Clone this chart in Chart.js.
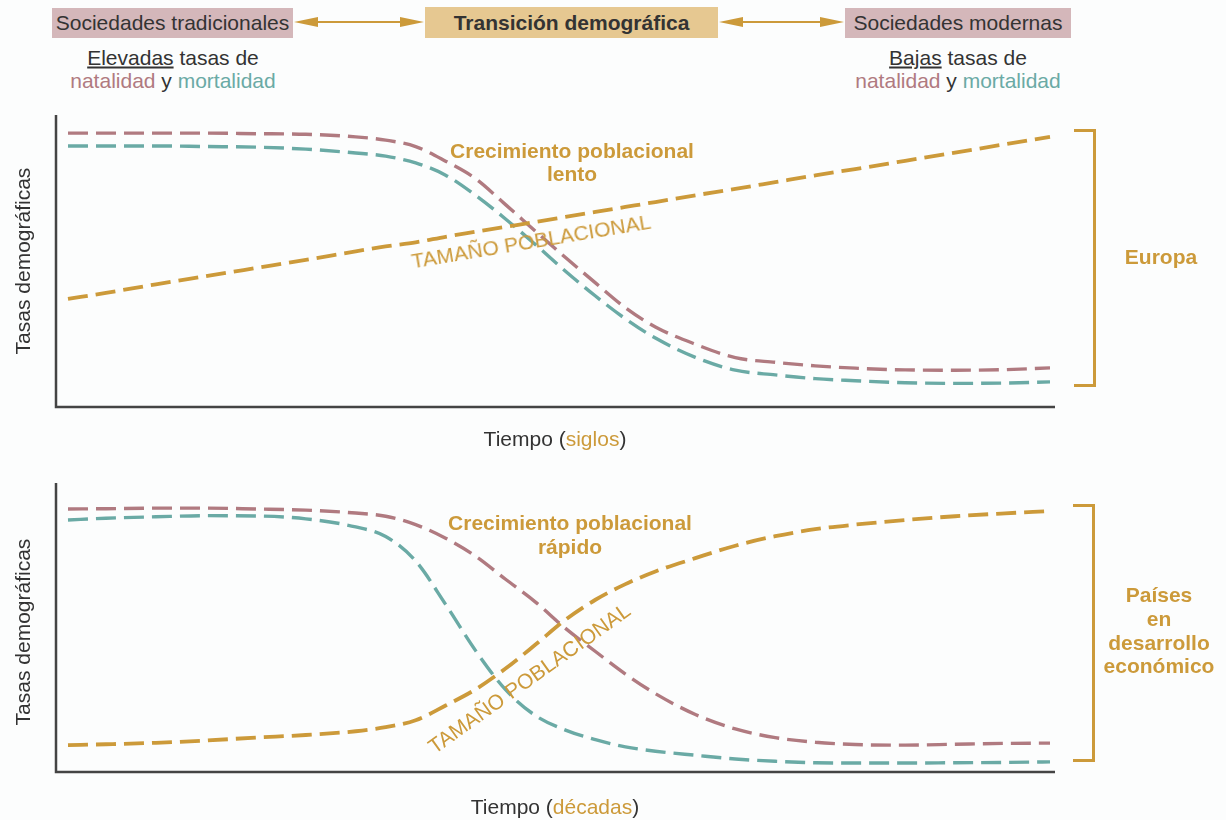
<!DOCTYPE html>
<html>
<head>
<meta charset="utf-8">
<script src="https://cdn.jsdelivr.net/npm/chart.js@4"></script>
<style>
  body { margin: 0; background: #fcfdfd; font-family: "Liberation Sans", Arial, sans-serif; color: #333; }
  #page { position: relative; width: 1226px; height: 820px; overflow: hidden; }
  canvas { position: absolute; left: 0; }
  .t { position: absolute; white-space: nowrap; transform: translate(-50%, -50%); font-size: 21px; line-height: 1; }
  .box { position: absolute; display: flex; align-items: center; justify-content: center; font-size: 21px; }
  .gold { color: #cc9a3a; }
  .pink { color: #b07a80; }
  .teal { color: #6aaaa5; }
  .b { font-weight: bold; }
  .bracket { position: absolute; border: 3px solid #cc9a3a; border-left: none; }
</style>
</head>
<body>
<div id="page">
  <div class="box" style="left:52px;top:8px;width:241px;height:30px;background:#d4b7ba;">Sociedades tradicionales</div>
  <div class="box b" style="left:425px;top:7px;width:293px;height:31px;background:#e6c891;">Transición demográfica</div>
  <div class="box" style="left:845px;top:8px;width:226px;height:30px;background:#d4b7ba;">Sociedades modernas</div>
  <svg style="position:absolute;left:0;top:0" width="1226" height="40">
    <g fill="#cc9a3a" stroke="#cc9a3a">
      <line x1="305" y1="22" x2="412" y2="22" stroke-width="2"/>
      <polygon points="294,22 318,17 318,27" stroke="none"/>
      <polygon points="424,22 400,17 400,27" stroke="none"/>
      <line x1="730" y1="22" x2="833" y2="22" stroke-width="2"/>
      <polygon points="719,22 743,17 743,27" stroke="none"/>
      <polygon points="844,22 820,17 820,27" stroke="none"/>
    </g>
  </svg>
  <div class="t" style="left:173px;top:57px;"><u>Elevadas</u> tasas de</div>
  <div class="t" style="left:173px;top:80px;"><span class="pink">natalidad</span> y <span class="teal">mortalidad</span></div>
  <div class="t" style="left:958px;top:57px;"><u>Bajas</u> tasas de</div>
  <div class="t" style="left:958px;top:80px;"><span class="pink">natalidad</span> y <span class="teal">mortalidad</span></div>

  <canvas id="europaChart" width="1226" height="360" style="top:100px"></canvas>
  <canvas id="desarrolloChart" width="1226" height="360" style="top:460px"></canvas>

  <div class="t" style="left:22px;top:261px;transform:translate(-50%,-50%) rotate(-90deg);">Tasas demográficas</div>
  <div class="t" style="left:555px;top:438px;">Tiempo (<span class="gold">siglos</span>)</div>
  <div class="t b gold" style="left:572px;top:150px;">Crecimiento poblacional</div>
  <div class="t b gold" style="left:572px;top:173px;">lento</div>
  <div class="t gold" style="left:531px;top:241px;transform:translate(-50%,-50%) rotate(-9.5deg);">TAMAÑO POBLACIONAL</div>
  <div class="bracket" style="left:1074px;top:129px;width:19px;height:252px;"></div>
  <div class="t b gold" style="left:1161px;top:256px;">Europa</div>

  <div class="t" style="left:22px;top:632px;transform:translate(-50%,-50%) rotate(-90deg);">Tasas demográficas</div>
  <div class="t" style="left:555px;top:806px;">Tiempo (<span class="gold">décadas</span>)</div>
  <div class="t b gold" style="left:570px;top:522px;">Crecimiento poblacional</div>
  <div class="t b gold" style="left:570px;top:546px;">rápido</div>
  <div class="t gold" style="left:529px;top:678px;transform:translate(-50%,-50%) rotate(-35.5deg);">TAMAÑO POBLACIONAL</div>
  <div class="bracket" style="left:1073px;top:504px;width:19px;height:252px;"></div>
  <div class="t b gold" style="left:1159px;top:594px;">Países</div>
  <div class="t b gold" style="left:1159px;top:618px;">en</div>
  <div class="t b gold" style="left:1159px;top:642px;">desarrollo</div>
  <div class="t b gold" style="left:1159px;top:665px;">económico</div>
</div>

<script>
const tiempo = [1.2, 5, 10, 15, 20, 25, 30, 33, 36, 39, 42, 45, 48, 51, 54, 57, 60, 64, 68, 72, 76, 80, 85, 90, 95, 99.5];

// Europa (siglos)
const europaNatalidad = [93.8, 93.8, 93.8, 93.8, 93.6, 93.4, 92.5, 91.4, 89.2, 84.2, 78.2, 69.3, 60.2, 51.2, 42.5, 34.0, 27.4, 21.5, 16.9, 15.3, 14.1, 13.3, 12.7, 12.6, 12.8, 13.4];
const europaMortalidad = [89.4, 89.4, 89.4, 89.2, 89.0, 88.3, 87.0, 85.9, 83.6, 79.4, 72.5, 64.4, 55.6, 46.5, 38.0, 30.2, 23.6, 17.0, 12.6, 11.0, 9.7, 9.0, 8.3, 8.1, 8.2, 8.6];
const europaPoblacion = [37.0, 39.1, 42.0, 44.8, 47.6, 50.4, 53.3, 55.0, 56.4, 58.3, 60.0, 61.7, 63.4, 65.1, 66.8, 68.5, 70.2, 72.5, 74.7, 77.0, 79.3, 81.5, 84.3, 87.1, 90.0, 92.5];

// Países en desarrollo (décadas)
const desarrolloNatalidad = [91.0, 91.1, 91.3, 91.3, 91.0, 90.6, 89.6, 88.5, 85.6, 80.9, 74.7, 66.7, 58.8, 49.7, 41.7, 33.9, 27.1, 19.9, 14.9, 11.9, 10.3, 9.5, 9.3, 9.6, 9.9, 10.0];
const desarrolloMortalidad = [87.2, 87.8, 88.3, 88.7, 88.6, 87.6, 84.8, 81.5, 73.0, 58.0, 42.0, 28.5, 19.5, 14.5, 11.2, 8.7, 7.2, 5.8, 4.5, 3.7, 3.2, 3.1, 3.1, 3.2, 3.3, 3.5];
const desarrolloPoblacion = [9.3, 9.6, 10.1, 10.9, 11.9, 12.8, 14.1, 15.5, 17.9, 23.0, 28.6, 35.8, 44.1, 52.7, 59.6, 65.0, 69.4, 74.0, 78.3, 81.6, 84.0, 85.6, 87.2, 88.5, 89.5, 90.3];

const PINK = "#b07a80";
const TEAL = "#6aaaa5";
const GOLD = "#cc9a3a";

// draws the left and bottom axis lines on the chart area
const axisLines = {
  id: "axisLines",
  afterDraw(chart) {
    const { ctx, chartArea: a } = chart;
    ctx.save();
    ctx.strokeStyle = "#444";
    ctx.lineWidth = 2.5;
    ctx.beginPath();
    ctx.moveTo(a.left, a.top);
    ctx.lineTo(a.left, a.bottom);
    ctx.lineTo(a.right, a.bottom);
    ctx.stroke();
    ctx.restore();
  }
};

function serie(values, color, width) {
  return {
    data: tiempo.map((t, i) => ({ x: t, y: values[i] })),
    borderColor: color,
    borderWidth: width,
    borderDash: [20, 8],
    pointRadius: 0,
    fill: false,
    cubicInterpolationMode: "monotone",
  };
}

function renderChart(id, natalidad, mortalidad, poblacion, padding) {
  const ctx = document.getElementById(id).getContext("2d");
  return new Chart(ctx, {
    type: "line",
    data: {
      datasets: [
        serie(poblacion, GOLD, 3.8),
        serie(mortalidad, TEAL, 3.4),
        serie(natalidad, PINK, 3.4),
      ]
    },
    options: {
      responsive: false,
      animation: false,
      layout: { padding: padding },
      plugins: { legend: { display: false }, tooltip: { enabled: false } },
      scales: {
        x: { type: "linear", min: 0, max: 100, display: false },
        y: { min: 0, max: 100, display: false },
      }
    },
    plugins: [axisLines]
  });
}

renderChart("europaChart", europaNatalidad, europaMortalidad, europaPoblacion,
  { left: 56, right: 171, top: 15, bottom: 53 });
renderChart("desarrolloChart", desarrolloNatalidad, desarrolloMortalidad, desarrolloPoblacion,
  { left: 56, right: 171, top: 23, bottom: 48 });
</script>
</body>
</html>
